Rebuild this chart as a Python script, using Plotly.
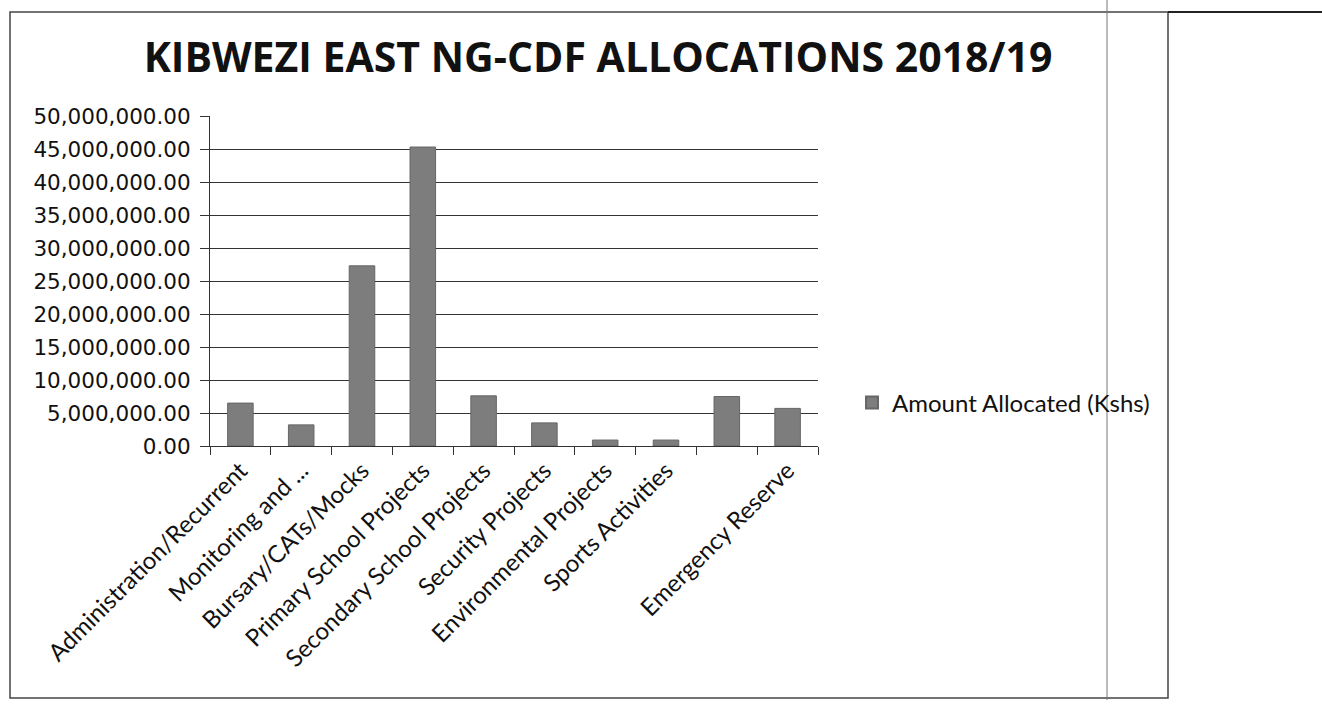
import plotly.graph_objects as go

categories = [
    "Administration/Recurrent",
    "Monitoring and ...",
    "Bursary/CATs/Mocks",
    "Primary School Projects",
    "Secondary School Projects",
    "Security Projects",
    "Environmental Projects",
    "Sports Activities",
    " ",
    "Emergency Reserve",
]
amounts = [6500000, 3200000, 27300000, 45300000, 7600000,
           3500000, 900000, 900000, 7500000, 5700000]
series_name = "Amount Allocated (Kshs)"
title_text = "KIBWEZI EAST NG-CDF ALLOCATIONS 2018/19"
y_ticks = [0, 5e6, 10e6, 15e6, 20e6, 25e6, 30e6, 35e6, 40e6, 45e6, 50e6]

W, H = 1322, 705
L, R, T, B = 210, 818, 116, 446

fig = go.Figure()
fig.add_trace(go.Bar(
    x=categories, y=amounts, name=series_name,
    marker=dict(color="#7d7d7d", line=dict(color="#666", width=1)),
    showlegend=True,
))

fig.update_layout(
    width=W, height=H,
    margin=dict(l=L, r=W - R, t=T, b=H - B, pad=0),
    paper_bgcolor="white", plot_bgcolor="white",
    bargap=0.58,
    title=dict(text="<b>" + title_text + "</b>",
               font=dict(family="Open Sans", size=41, color="#111"),
               x=598 / W, xanchor="center", xref="container",
               y=1 - 58 / H, yanchor="middle", yref="container"),
    legend=dict(x=(852 - L) / (R - L), xanchor="left", y=(B - 403) / (B - T), yanchor="middle",
                font=dict(family="Lato, Open Sans", size=24, color="#111"),
                bgcolor="rgba(0,0,0,0)", itemwidth=30, itemsizing="constant"),
    font=dict(family="DejaVu Sans", color="#111"),
)
fig.update_yaxes(
    range=[0, 50e6], tickvals=y_ticks, tickformat=",.2f",
    showgrid=True, gridcolor="#333", gridwidth=1,
    showline=True, linecolor="#333", linewidth=1,
    ticks="outside", ticklen=9, tickcolor="#333",
    tickfont=dict(family="DejaVu Sans", size=21.5, color="#111"),
    ticklabelstandoff=5,
    zeroline=False,
)
fig.update_xaxes(
    type="category", tickangle=-45, tickson="boundaries",
    showline=True, linecolor="#333", linewidth=1,
    ticks="outside", ticklen=8, tickcolor="#333",
    tickfont=dict(family="Lato, Open Sans", size=24, color="#111"),
    showgrid=False,
)

# chart outer border and scan lines
fig.add_shape(type="rect", xref="paper", yref="paper",
              x0=(10 - L) / (R - L), x1=(1168 - L) / (R - L),
              y0=(B - 698) / (B - T), y1=(B - 12) / (B - T),
              line=dict(color="#444", width=1.5), layer="below")
fig.add_shape(type="line", xref="paper", yref="paper",
              x0=(1168 - L) / (R - L), x1=(1322 - L) / (R - L),
              y0=(B - 12) / (B - T), y1=(B - 12) / (B - T),
              line=dict(color="#222", width=2))
fig.add_shape(type="line", xref="paper", yref="paper",
              x0=(1107 - L) / (R - L), x1=(1107 - L) / (R - L),
              y0=(B - 700) / (B - T), y1=(B - 0) / (B - T),
              line=dict(color="#777", width=1))

fig.write_html("out.html")
